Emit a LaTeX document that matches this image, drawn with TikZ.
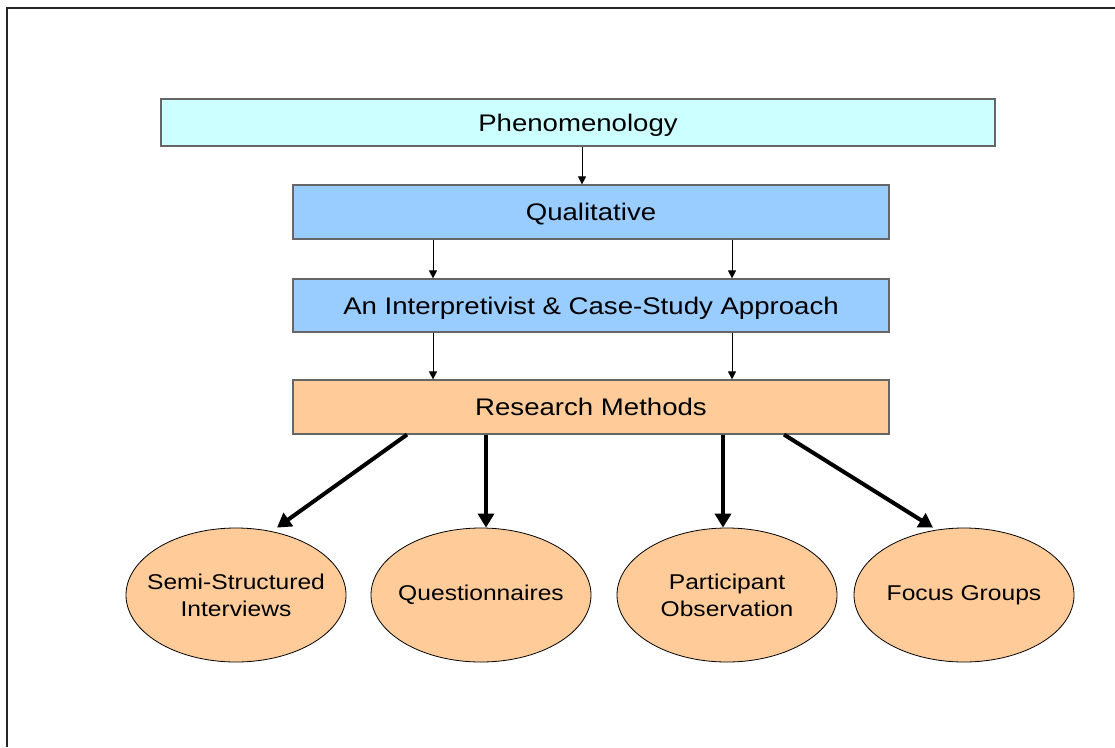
\documentclass[tikz,border=0pt]{standalone}
\usepackage{fontspec}
\setmainfont{Liberation Sans}
\usetikzlibrary{arrows.meta,shapes.geometric}
\begin{document}
\begin{tikzpicture}[x=1pt,y=-1pt,
  box/.style={draw=black!60, line width=1.2pt, rectangle, inner sep=0pt,
    text height=17pt, text depth=0pt,
    font=\fontsize{24}{28}\selectfont},
  ell/.style={draw=black, line width=0.8pt, ellipse, inner sep=0pt,
    minimum width=220pt, minimum height=134pt, fill=peach},
  elltext/.style={align=center, inner sep=0pt, font=\fontsize{21.4}{27}\selectfont},
  thinarr/.style={draw=black, line width=1pt, -{Triangle[length=8pt,width=8pt]}},
  thickarr/.style={draw=black, line width=4pt, -{Triangle[length=14pt,width=16pt]}}
]
\definecolor{cyanbox}{HTML}{CCFFFF}
\definecolor{bluebox}{HTML}{99CCFF}
\definecolor{peach}{HTML}{FFCC99}
\useasboundingbox (0,0) rectangle (1115,747);
\draw[line width=1.5pt, black!85] (7,747) -- (7,8) -- (1115,8);

\node[box, fill=cyanbox, minimum width=834pt, minimum height=47pt] (phen) at (578,122.5)
  {\scalebox{1.15}[1]{Phenomenology}};
\node[box, fill=bluebox, minimum width=596pt, minimum height=54pt] (qual) at (591,212)
  {\scalebox{1.15}[1]{Qualitative}};
\node[box, fill=bluebox, minimum width=596pt, minimum height=53pt] (interp) at (591,305.5)
  {\scalebox{1.15}[1]{An Interpretivist \& Case-Study Approach}};
\node[box, fill=peach, minimum width=596pt, minimum height=54pt] (rm) at (591,407)
  {\scalebox{1.15}[1]{Research Methods}};

\node[ell, label={[elltext]center:{\scalebox{1.15}[1]{Semi-Structured}\\\scalebox{1.15}[1]{Interviews}}}] (e1) at (236,595) {};
\node[ell, label={[elltext]center:{\scalebox{1.15}[1]{Questionnaires}}}] (e2) at (481,595) {};
\node[ell, label={[elltext]center:{\scalebox{1.15}[1]{Participant}\\\scalebox{1.15}[1]{Observation}}}] (e3) at (727,595) {};
\node[ell, label={[elltext]center:{\scalebox{1.15}[1]{Focus Groups}}}] (e4) at (964,595) {};

\draw[thinarr] ([xshift=4pt]phen.south) -- ([xshift=-9pt]qual.north);
\draw[thinarr] ([xshift=-158pt]qual.south) -- ([xshift=-158pt]interp.north);
\draw[thinarr] ([xshift=141pt]qual.south) -- ([xshift=141pt]interp.north);
\draw[thinarr] ([xshift=-158pt]interp.south) -- ([xshift=-158pt]rm.north);
\draw[thinarr] ([xshift=141pt]interp.south) -- ([xshift=141pt]rm.north);

\draw[thickarr] ([xshift=-184pt]rm.south) -- ([xshift=41pt]e1.north);
\draw[thickarr] ([xshift=-105pt]rm.south) -- ([xshift=5pt]e2.north);
\draw[thickarr] ([xshift=132pt]rm.south) -- ([xshift=-4pt]e3.north);
\draw[thickarr] ([xshift=193pt]rm.south) -- ([xshift=-31pt]e4.north);
\end{tikzpicture}
\end{document}
